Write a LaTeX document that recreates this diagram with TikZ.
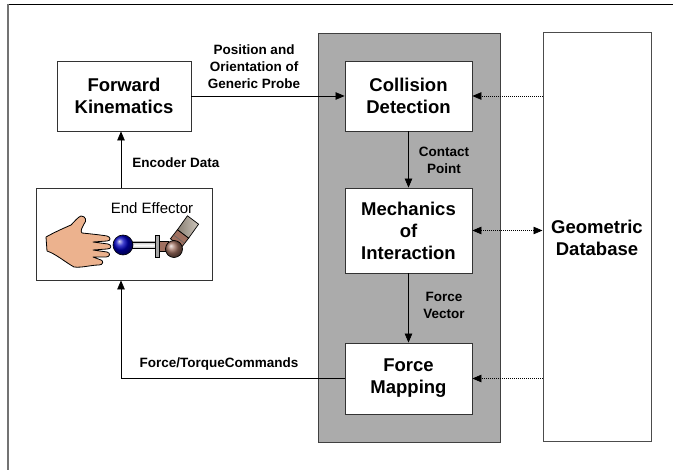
\documentclass[tikz,border=0pt]{standalone}
\usepackage{fontspec}
\setmainfont{Liberation Sans}
\usetikzlibrary{arrows.meta}
\definecolor{panelgray}{RGB}{171,171,171}
\definecolor{skin}{RGB}{236,178,142}
\definecolor{jointbrown}{RGB}{160,112,96}
\definecolor{armtan}{RGB}{172,160,144}
\begin{document}
\begin{tikzpicture}[x=1pt,y=-1pt,
  box/.style={draw=black!80, line width=0.8pt, fill=white, inner sep=0pt, align=center,
    font=\fontsize{18.5}{22}\selectfont\bfseries},
  lbl/.style={font=\fontsize{13.5}{17}\selectfont\bfseries, align=center, inner sep=0pt},
  arr/.style={-{Triangle[length=9pt,width=7.5pt]}, line width=0.7pt},
  dotarr/.style={arr, dash pattern=on 1pt off 1pt},
  outline/.style={draw=black, line width=0.8pt}
]
\useasboundingbox (0,0) rectangle (673,470);

% page frame
\draw[black, line width=0.9pt] (8,4) -- (673,4);
\draw[black!55, line width=1.6pt] (8,4) -- (8,470);

% shaded processing panel and database column
\node[draw=black!75, line width=0.9pt, fill=panelgray, minimum width=182pt, minimum height=409pt,
  inner sep=0pt] (panel) at (409,237.5) {};
\node[box, draw=black!70, line width=1pt, minimum width=108pt, minimum height=409pt] (db) at (597,237.5)
  {Geometric\\Database};

% blocks
\node[box, minimum width=134pt, minimum height=70pt] (fk) at (124,96) {Forward\\Kinematics};
\node[box, minimum width=127pt, minimum height=70pt] (cd) at (408.5,96) {Collision\\Detection};
\node[box, minimum width=127pt, minimum height=85pt] (mi) at (408.5,230.5) {Mechanics\\of\\Interaction};
\node[box, minimum width=127pt, minimum height=71pt] (fm) at (408.5,378.5) {Force\\Mapping};
\node[box, minimum width=176pt, minimum height=92pt] (ee) at (124,234) {};
\node[inner sep=0pt, font=\fontsize{15}{18}\selectfont] (eelbl) at (152,208) {End Effector};

% hand
\draw[outline, fill=skin, line join=round]
  (46,237) .. controls (55,232) and (64,228) .. (71,225)
  .. controls (75,221) and (78,217) .. (81,216)
  .. controls (86,216) and (87,221) .. (84,224)
  .. controls (82,228) and (80,231) .. (82,233)
  .. controls (92,234) and (101,235) .. (107,236)
  .. controls (111,237) and (111,241) .. (107,241)
  -- (93,242) -- (108,244)
  .. controls (112,245) and (112,249) .. (107,249)
  -- (93,250) -- (107,252)
  .. controls (111,253) and (110,257) .. (106,257)
  -- (93,257) -- (101,260)
  .. controls (104,261) and (103,265) .. (99,265)
  .. controls (91,265) and (82,268) .. (74,267)
  .. controls (65,262) and (56,254) .. (47,251) -- cycle;

% robot arm: upper link, lower link, joint, flange, rod, probe ball
\shade[left color=armtan!80!black, right color=armtan!60!white, draw=black, line width=0.7pt]
  (177.4,229.8) -- (187.4,215.8) -- (198.6,224.2) -- (188.6,238.2) -- cycle;
\fill[jointbrown, draw=black, line width=0.7pt]
  (170.4,238.8) -- (177.4,229.8) -- (188.6,238.2) -- (181.6,247.2) -- cycle;
\draw[black!60, line width=0.6pt] (173.5,235) -- (184.5,243.2);
\fill[jointbrown, draw=black, line width=0.6pt] (159,241) rectangle (168,251);
\shade[ball color=jointbrown, draw=black, line width=0.7pt] (174,249) circle (8.5);
\shade[top color=gray!50, bottom color=gray!70, middle color=white, draw=black, line width=0.6pt]
  (132,242) rectangle (156,248.5);
\fill[gray!70, draw=black, line width=0.7pt] (155,235) rectangle (159.5,257);
\shade[ball color=blue!75!black, draw=black, line width=0.6pt] (123,245) circle (10);

% data flow
\draw[arr] (fk.east) -- (cd.west);
\draw[arr] ([xshift=-3pt]ee.north) -- ([xshift=-3pt]fk.south);
\draw[arr] (cd.south) -- (mi.north);
\draw[arr] (mi.south) -- (fm.north);
\coordinate (eeleg) at ([xshift=-3pt]ee.south);
\draw[arr] (fm.west) -| (eeleg);
\draw[dotarr] (cd.east -| db.west) -- (cd.east);
\draw[dotarr] (fm.east -| db.west) -- (fm.east);
\draw[dotarr, {Triangle[length=9pt,width=7.5pt]}-{Triangle[length=9pt,width=7.5pt]}] (mi.east) -- (mi.east -| db.west);

% connector labels
\node[lbl] (lpos) at (254,67) {Position and\\Orientation of\\Generic Probe};
\node[lbl] (lenc) at (176,163) {Encoder Data};
\node[lbl] (lcp) at (444,160) {Contact\\Point};
\node[lbl] (lfv) at (444,305) {Force\\Vector};
\node[lbl] (lftc) at (219,364) {Force/TorqueCommands};
\end{tikzpicture}
\end{document}
